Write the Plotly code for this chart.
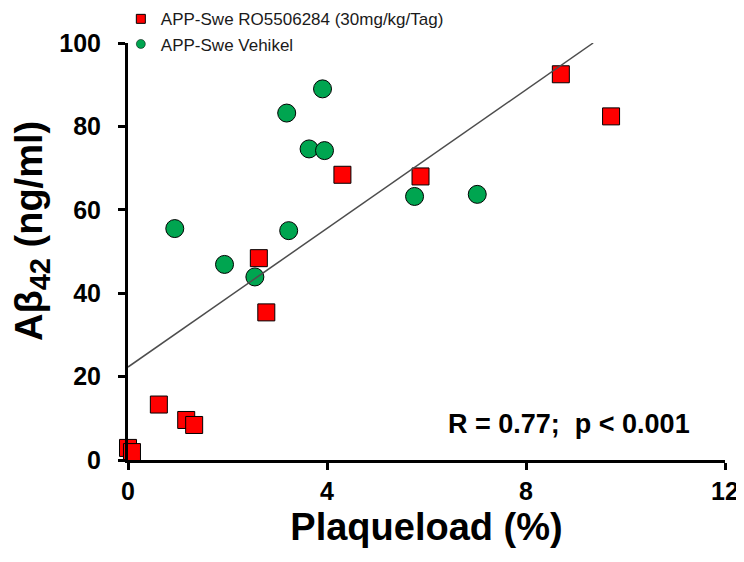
import plotly.graph_objects as go

# RO5506284-treated APP-Swe mice
ro_x = [8.70, 9.71, 4.31, 5.88, 2.63, 2.78, 0.62, 1.17, 1.33, 0.00, 0.08]
ro_y = [92.5, 82.4, 68.4, 68.0, 48.4, 35.4, 13.3, 9.6, 8.4, 2.9, 1.9]
# Vehicle-treated APP-Swe mice
veh_x = [3.91, 3.19, 3.64, 3.95, 5.76, 7.02, 0.94, 3.23, 1.94, 2.55]
veh_y = [89.0, 83.2, 74.6, 74.2, 63.2, 63.7, 55.5, 55.0, 46.9, 43.9]
# regression line end points
fit_x = [0.0, 9.35]
fit_y = [22.3, 100.0]

x_ticks = [0, 4, 8, 12]
y_ticks = [0, 20, 40, 60, 80, 100]

ro_name = "APP-Swe RO5506284 (30mg/kg/Tag)"
veh_name = "APP-Swe Vehikel"
x_title = "Plaqueload (%)"
y_title = "Aβ<sub><span style='font-size:29px'>42</span></sub> (ng/ml)"

RED = "#ff0000"
GREEN = "#00a550"
FONT = "Liberation Sans, Arial, sans-serif"

fig = go.Figure()

fig.add_trace(go.Scatter(
    x=veh_x, y=veh_y, mode="markers", showlegend=False,
    marker=dict(symbol="circle", size=18, color=GREEN, line=dict(color="black", width=1)),
    cliponaxis=False))
fig.add_trace(go.Scatter(
    x=ro_x, y=ro_y, mode="markers", showlegend=False,
    marker=dict(symbol="square", size=17, color=RED, line=dict(color="black", width=1)),
    cliponaxis=False))
fig.add_trace(go.Scatter(
    x=fit_x, y=fit_y, mode="lines", showlegend=False,
    line=dict(color="#4d4d4d", width=1.5), cliponaxis=False))

# legend entries (small markers as in the original)
fig.add_trace(go.Scatter(
    x=[None], y=[None], mode="markers", name=ro_name, legendrank=1,
    marker=dict(symbol="square", size=9, color=RED, line=dict(color="black", width=1))))
fig.add_trace(go.Scatter(
    x=[None], y=[None], mode="markers", name=veh_name, legendrank=2,
    marker=dict(symbol="circle", size=9, color=GREEN, line=dict(color="black", width=0.5))))

axis_common = dict(
    showline=True, linewidth=3, linecolor="black", mirror=False,
    ticks="outside", ticklen=7, tickwidth=3, tickcolor="black",
    showgrid=False, zeroline=False, automargin=False,
    tickfont=dict(family=FONT, size=25, color="black", weight="bold"),
)

# the page body adds an 8px offset; margins are chosen so the plot area
# lands at x 128..725, y 43..460 in the photographed page
fig.update_layout(
    width=744, height=562,
    margin=dict(l=120, r=27, t=35, b=110, autoexpand=False),
    paper_bgcolor="white", plot_bgcolor="white",
    xaxis=dict(range=[0, 12], tickvals=x_ticks, ticktext=[str(v) for v in x_ticks],
               ticklabelstandoff=0,
               title=dict(text=x_title, standoff=10,
                          font=dict(family=FONT, size=38, color="black", weight="bold")),
               **axis_common),
    yaxis=dict(range=[0, 100], tickvals=y_ticks, ticktext=[str(v) for v in y_ticks],
               ticklabelstandoff=12, **axis_common),
    legend=dict(x=-0.012, y=1.10, xanchor="left", yanchor="top",
                bgcolor="rgba(0,0,0,0)", traceorder="normal",
                font=dict(family=FONT, size=17, color="#1a1a1a"),
                itemwidth=30, tracegroupgap=0),
    annotations=[
        dict(text="R = 0.77;  p &lt; 0.001", xref="paper", yref="paper",
             x=0.739, y=0.086, xanchor="center", yanchor="middle", showarrow=False,
             font=dict(family=FONT, size=27, color="black", weight="bold")),
        dict(text=y_title, xref="paper", yref="paper", textangle=-90,
             x=-0.162, y=0.55, xanchor="center", yanchor="middle", showarrow=False,
             font=dict(family=FONT, size=38, color="black", weight="bold")),
    ],
)

fig.write_html("out.html")
